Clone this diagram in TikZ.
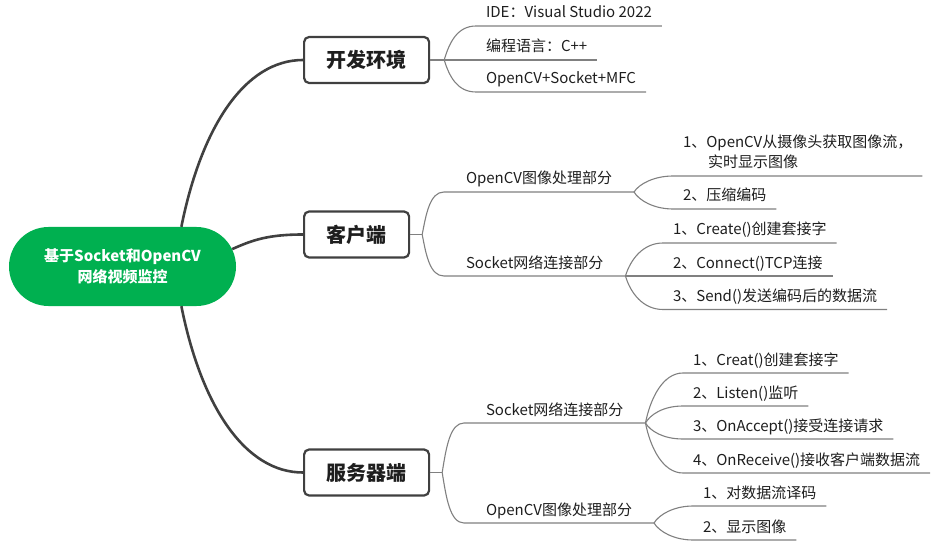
\documentclass[tikz,border=0pt]{standalone}
\usepackage{fontspec}
\setmainfont{Noto Sans CJK SC}
\usepackage{xcolor}
\usepackage{tikz}
\usetikzlibrary{shapes.misc}
\definecolor{RootGreen}{RGB}{0,176,80}
\definecolor{TrunkGray}{RGB}{64,64,64}
\definecolor{TwigGray}{RGB}{128,128,128}
\definecolor{InkBlack}{RGB}{30,30,30}

\begin{document}
\begin{tikzpicture}[x=1pt, y=-1pt,
  root/.style={rounded rectangle, fill=RootGreen, text=white, font=\fontsize{15}{21}\selectfont\bfseries, align=center, minimum width=227pt, minimum height=79pt, inner sep=0pt},
  branch/.style={rectangle, anchor=west, rounded corners=5pt, draw=TrunkGray, line width=2.2pt, fill=white, text=InkBlack, font=\fontsize{20}{24}\selectfont\bfseries, minimum height=46pt, inner xsep=22.5pt, inner ysep=0pt},
  topic/.style={anchor=south west, inner xsep=22pt, inner ysep=0pt, outer sep=0pt, text height=11pt, text depth=8pt, text=InkBlack, font=\fontsize{15}{20}\selectfont},
  leaf/.style={topic, inner xsep=10pt},
  trunk/.style={draw=TrunkGray, line width=2.6pt},
  twig/.style={draw=TwigGray, line width=1.1pt}
]
\useasboundingbox (0,0) rectangle (945,548);

\node[root] (root) at (122.5,266.5) {基于Socket和OpenCV\\网络视频监控};
\node[branch] (env) at (303,60) {开发环境};
\node[branch] (client) at (303,234.5) {客户端};
\node[branch] (server) at (303,472.5) {服务器端};

\draw[trunk] (root.34.5) .. controls +(20,-100) and +(-58,0) .. (env.west);
\draw[trunk] (root.9) .. controls +(20,-9) and +(-35,0) .. (client.west);
\draw[trunk] (root.-34.5) .. controls +(20,100) and +(-58,0) .. (server.west);

\node[leaf] (ide) at (476,26) {IDE：Visual Studio 2022};
\node[leaf] (lang) at (476,60) {编程语言：C++};
\node[leaf] (libs) at (476,92) {OpenCV+Socket+MFC};
\draw[twig] (env.east) -- ++(14,0) coordinate (envfork);
\draw[twig] (envfork) .. controls +(5,-17) and +(-19,0) .. (ide.south west) -- (ide.south east);
\draw[twig] (envfork) -- (lang.south west) -- (lang.south east);
\draw[twig] (envfork) .. controls +(5,16) and +(-19,0) .. (libs.south west) -- (libs.south east);

\node[topic] (cvc) at (444,192) {OpenCV图像处理部分};
\node[topic] (skc) at (444,276) {Socket网络连接部分};
\draw[twig] (client.east) -- ++(12,0) coordinate (clientfork);
\draw[twig] (clientfork) .. controls +(4,-21) and +(-14,0) .. (cvc.south west) -- (cvc.south east);
\draw[twig] (clientfork) .. controls +(4,21) and +(-14,0) .. (skc.south west) -- (skc.south east);

\node[leaf, text height=31pt] (grab) at (673,176) {\begin{tabular}[b]{@{}l@{}}1、OpenCV从摄像头获取图像流，\\\hspace*{25pt}实时显示图像\end{tabular}};
\node[leaf] (zip) at (673,209) {2、压缩编码};
\draw[twig] (cvc.south east) .. controls +(5,-8) and +(-19,0) .. (grab.south west) -- (grab.south east);
\draw[twig] (cvc.south east) .. controls +(5,8.5) and +(-19,0) .. (zip.south west) -- (zip.south east);

\node[leaf] (mksock) at (663,243) {1、Create()创建套接字};
\node[leaf] (conn) at (663,276) {2、Connect()TCP连接};
\node[leaf] (send) at (663,309.5) {3、Send()发送编码后的数据流};
\draw[twig] (skc.south east) .. controls +(5,-16.5) and +(-20,0) .. (mksock.south west) -- (mksock.south east);
\draw[twig] (skc.south east) -- (conn.south west) -- (conn.south east);
\draw[twig] (skc.south east) .. controls +(5,17) and +(-20,0) .. (send.south west) -- (send.south east);

\node[topic] (sks) at (464,423) {Socket网络连接部分};
\node[topic] (cvs) at (464,523) {OpenCV图像处理部分};
\draw[twig] (server.east) -- ++(12,0) coordinate (serverfork);
\draw[twig] (serverfork) .. controls +(4,-25) and +(-14,0) .. (sks.south west) -- (sks.south east);
\draw[twig] (serverfork) .. controls +(4,25) and +(-14,0) .. (cvs.south west) -- (cvs.south east);

\node[leaf] (mksrv) at (683,373) {1、Creat()创建套接字};
\node[leaf] (listen) at (683,406) {2、Listen()监听};
\node[leaf] (accept) at (683,439) {3、OnAccept()接受连接请求};
\node[leaf] (recv) at (683,473) {4、OnReceive()接收客户端数据流};
\draw[twig] (sks.south east) .. controls +(5,-25) and +(-20,0) .. (mksrv.south west) -- (mksrv.south east);
\draw[twig] (sks.south east) .. controls +(5,-8.5) and +(-20,0) .. (listen.south west) -- (listen.south east);
\draw[twig] (sks.south east) .. controls +(5,8) and +(-20,0) .. (accept.south west) -- (accept.south east);
\draw[twig] (sks.south east) .. controls +(5,25) and +(-20,0) .. (recv.south west) -- (recv.south east);

\node[leaf] (decode) at (693,506) {1、对数据流译码};
\node[leaf] (show) at (693,540) {2、显示图像};
\draw[twig] (cvs.south east) .. controls +(5,-8.5) and +(-19,0) .. (decode.south west) -- (decode.south east);
\draw[twig] (cvs.south east) .. controls +(5,8.5) and +(-19,0) .. (show.south west) -- (show.south east);
\end{tikzpicture}
\end{document}
